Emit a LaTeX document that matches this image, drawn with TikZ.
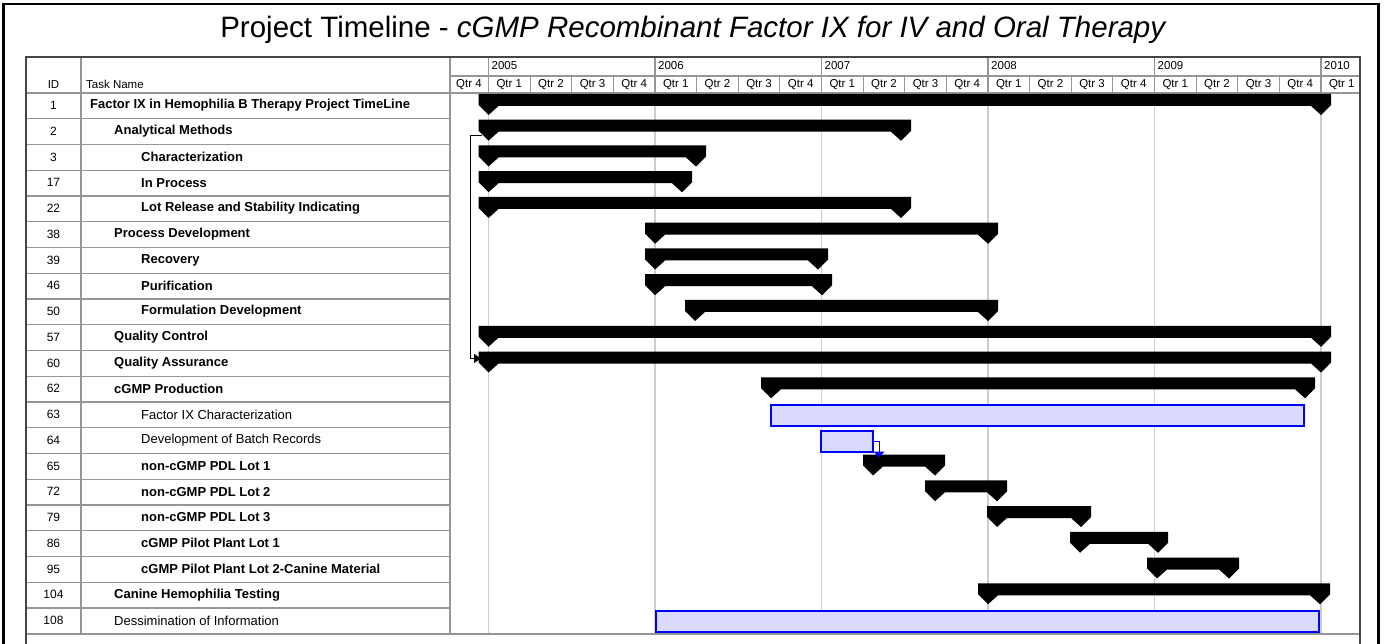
\documentclass[tikz,border=0pt]{standalone}
\usepackage{fontspec}
\setmainfont{Liberation Sans}
\usetikzlibrary{arrows.meta}
\definecolor{barblue}{RGB}{0,0,255}
\definecolor{barfill}{RGB}{218,218,255}
\definecolor{gridgray}{RGB}{205,205,205}
\definecolor{linegray}{RGB}{150,150,150}
\definecolor{bordergray}{RGB}{70,70,70}
\newcommand\taskrow[5]{%
  \node[idtxt] (id#1) at (53.5,{93+25.75*(#1-1)+12.5}) {#2};
  \node[#4] (tn#1) at (#3,{93+25.75*(#1-1)+12.5}) {#5};
}
\newcommand\sumbar[3]{%
  \pgfmathsetmacro\rtop{93+25.75*(#1-1)}
  \fill[black] ({#2-10},{\rtop+1}) -- ({#3+10},{\rtop+1}) -- ({#3+10},{\rtop+12}) -- (#3,{\rtop+22}) -- ({#3-10},{\rtop+13}) -- ({#2+10},{\rtop+13}) -- (#2,{\rtop+22}) -- ({#2-10},{\rtop+12}) -- cycle;
}
\newcommand\taskbar[3]{%
  \pgfmathsetmacro\rtop{93+25.75*(#1-1)}
  \draw[taskbarst] (#2,{\rtop+3}) rectangle (#3,{\rtop+24});
}
\begin{document}
\begin{tikzpicture}[x=1pt,y=-1pt,
  hdr/.style={font=\fontsize{11.5}{12}\selectfont, inner sep=0pt},
  idtxt/.style={font=\fontsize{12}{13}\selectfont, inner sep=0pt},
  tnb/.style={font=\bfseries\fontsize{13}{14}\selectfont, anchor=west, inner sep=0pt},
  tnr/.style={font=\fontsize{13}{14}\selectfont, anchor=west, inner sep=0pt},
  taskbarst/.style={draw=barblue, fill=barfill, line width=1.6pt},
  conn/.style={draw=black, line width=0.8pt, -{Triangle[length=7pt,width=9pt]}},
  bconn/.style={draw=barblue, line width=1pt, -{Triangle[length=6pt,width=11pt]}},
]
\useasboundingbox (0,0) rectangle (1384,644);
\fill[white] (0,0) rectangle (1384,644);
% outer frame
\draw[line width=2.5pt] (3.5,650) -- (3.5,4) -- (1378.5,4) -- (1378.5,650);
% title
\node[anchor=base, inner sep=0pt, font=\fontsize{29.5}{30}\selectfont] (title) at (693.5,38) {Project Timeline - \textit{cGMP Recombinant Factor IX for IV and Oral Therapy}};
% chart gridlines
\foreach \x in {488.5,655,821.5,988,1154.5,1321} \draw[gridgray, line width=1.2pt] (\x,93) -- (\x,634);
% left table row lines
\foreach \i in {2,...,21} \draw[linegray, line width=1.2pt] (26,{93+25.75*(\i-1)}) -- (450,{93+25.75*(\i-1)});
% header lines
\draw[linegray, line width=1.2pt] (450,76) -- (1360,76);
\draw[linegray, line width=1.5pt] (26,93) -- (1360,93);
\foreach \x in {488.5,655,821.5,988,1154.5,1321} \draw[linegray,line width=1.2pt] (\x,57) -- (\x,76);
\foreach \k in {0,...,20} \draw[linegray, line width=1.2pt] ({488.5+41.625*\k},76) -- ({488.5+41.625*\k},93);
\draw[linegray, line width=1.5pt] (81,57) -- (81,634);
\draw[linegray, line width=1.5pt] (450,57) -- (450,634);
\draw[linegray, line width=1.5pt] (26,634) -- (1360,634);
\draw[bordergray, line width=2pt] (26,644) -- (26,57) -- (1360,57) -- (1360,644);
% header text
\node[hdr] (hid) at (53.5,84.5) {ID};
\node[hdr, anchor=west] (htn) at (86,84.5) {Task Name};
\node[hdr] (q0) at (469,84.5) {Qtr 4};
\foreach \k in {0,...,20} {
  \pgfmathtruncatemacro\qn{mod(\k,4)+1}
  \node[hdr] (q\k) at ({488.5+41.625*(\k+0.5)},84.5) {Qtr \qn};
}
\foreach \y [count=\j from 0] in {2005,2006,2007,2008,2009} \node[hdr, anchor=west] (y\y) at ({491.5+166.5*\j},66) {\y};
\node[hdr, anchor=west] (y2010) at (1324,66) {2010};
% task rows
\taskrow{1}{1}{90}{tnb}{Factor IX in Hemophilia B Therapy Project TimeLine}
\taskrow{2}{2}{114}{tnb}{Analytical Methods}
\taskrow{3}{3}{141}{tnb}{Characterization}
\taskrow{4}{17}{141}{tnb}{In Process}
\taskrow{5}{22}{141}{tnb}{Lot Release and Stability Indicating}
\taskrow{6}{38}{114}{tnb}{Process Development}
\taskrow{7}{39}{141}{tnb}{Recovery}
\taskrow{8}{46}{141}{tnb}{Purification}
\taskrow{9}{50}{141}{tnb}{Formulation Development}
\taskrow{10}{57}{114}{tnb}{Quality Control}
\taskrow{11}{60}{114}{tnb}{Quality Assurance}
\taskrow{12}{62}{114}{tnb}{cGMP Production}
\taskrow{13}{63}{141}{tnr}{Factor IX Characterization}
\taskrow{14}{64}{141}{tnr}{Development of Batch Records}
\taskrow{15}{65}{141}{tnb}{non-cGMP PDL Lot 1}
\taskrow{16}{72}{141}{tnb}{non-cGMP PDL Lot 2}
\taskrow{17}{79}{141}{tnb}{non-cGMP PDL Lot 3}
\taskrow{18}{86}{141}{tnb}{cGMP Pilot Plant Lot 1}
\taskrow{19}{95}{141}{tnb}{cGMP Pilot Plant Lot 2-Canine Material}
\taskrow{20}{104}{114}{tnb}{Canine Hemophilia Testing}
\taskrow{21}{108}{114}{tnr}{Dessimination of Information}
% connector Analytical Methods -> Quality Assurance
\coordinate (c2) at (482,135.5);
\coordinate (c60) at (481,358.5);
\draw[conn] (c2) -- ++(-12,0) |- (c60);
% bars
\sumbar{1}{488.5}{1321}
\sumbar{2}{488.5}{901}
\sumbar{3}{488.5}{696}
\sumbar{4}{488.5}{682}
\sumbar{5}{488.5}{901}
\sumbar{6}{655}{988}
\sumbar{7}{655}{818}
\sumbar{8}{655}{822}
\sumbar{9}{695}{988}
\sumbar{10}{488.5}{1321}
\sumbar{11}{488.5}{1321}
\sumbar{12}{771}{1305}
\taskbar{13}{771}{1304}
\taskbar{14}{821}{873}
\sumbar{15}{873}{935}
\sumbar{16}{935}{997}
\sumbar{17}{997}{1081}
\sumbar{18}{1080}{1158}
\sumbar{19}{1157}{1229}
\sumbar{20}{988}{1320}
\taskbar{21}{656}{1319}
% connector Batch Records -> PDL Lot 1
\coordinate (b64) at (873,441.75);
\coordinate (b65) at (879,457.5);
\draw[bconn] (b64) -| (b65);
\end{tikzpicture}
\end{document}
